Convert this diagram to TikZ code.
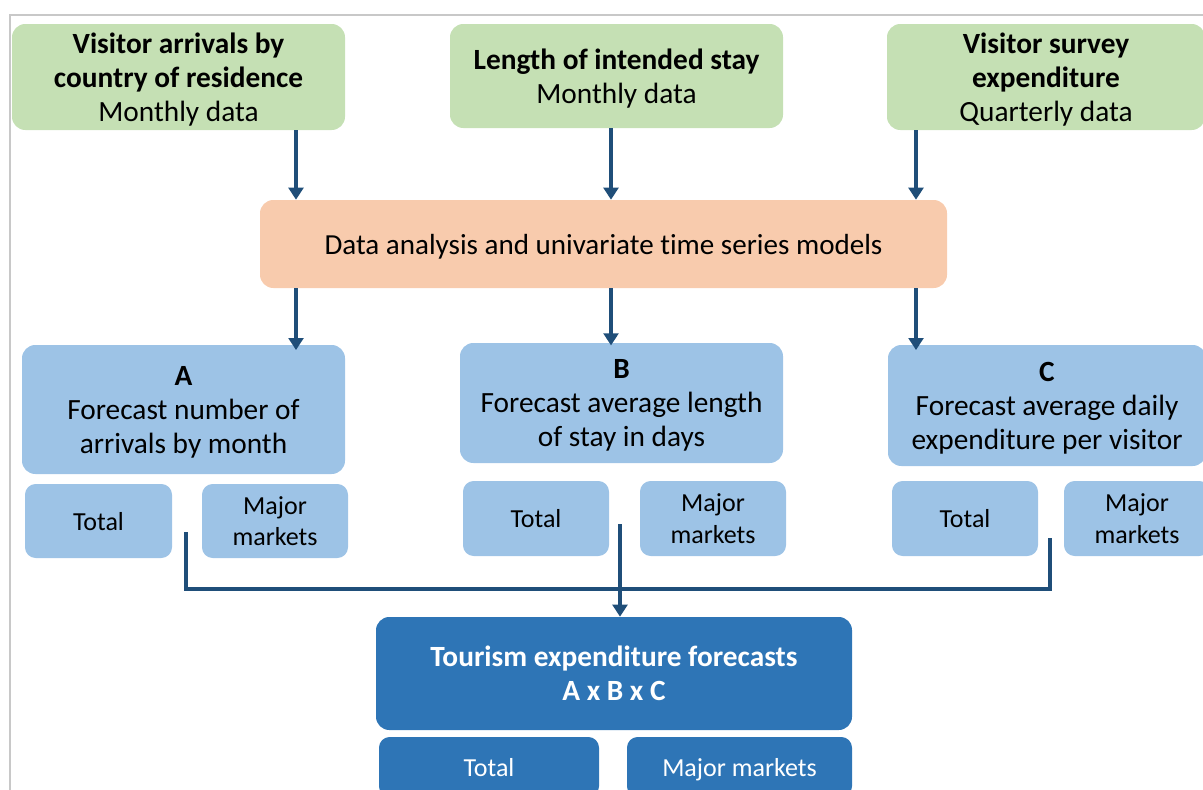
\documentclass[tikz,border=0pt]{standalone}
\usepackage{fontspec}
\setmainfont{Carlito}[Ligatures=NoCommon,Contextuals=NoAlternate]
\usetikzlibrary{arrows.meta}
\definecolor{grn}{HTML}{C5E0B4}
\definecolor{org}{HTML}{F8CBAD}
\definecolor{lblue}{HTML}{9DC3E6}
\definecolor{dblue}{HTML}{2E75B6}
\definecolor{arrc}{HTML}{1F4E79}
\definecolor{frm}{HTML}{C8C8C8}
\begin{document}
\begin{tikzpicture}[x=0.75pt,y=-0.75pt,
  box/.style={rectangle, rounded corners=10pt, inner sep=0pt, align=center, draw=none, text depth=0pt},
  bigtxt/.style={font=\fontsize{22}{25.5}\selectfont},
  smalltxt/.style={font=\fontsize{19.5}{23.5}\selectfont},
  gbox/.style={box, fill=grn, bigtxt},
  obox/.style={box, fill=org, font=\fontsize{21.8}{25}\selectfont},
  lbox/.style={box, fill=lblue, bigtxt},
  sbox/.style={box, fill=lblue, smalltxt, rounded corners=8pt},
  fbox/.style={box, fill=dblue, text=white, bigtxt},
  fsub/.style={box, fill=dblue, text=white, smalltxt, rounded corners=8pt},
  arr/.style={draw=arrc, line width=3pt, -{Triangle[length=9pt,width=11pt]}},
  conn/.style={draw=arrc, line width=3pt}]
\useasboundingbox (0,0) rectangle (1203,789);
\clip (0,0) rectangle (1203,789);
\draw[frm, line width=1.5pt] (10,795) -- (10,15) -- (1210,15);

% top sources
\node[gbox, minimum width=333*0.75pt, minimum height=106*0.75pt] (g1) at (178.5,77)
  {\textbf{Visitor arrivals by}\\\textbf{country of residence}\\Monthly data};
\node[gbox, minimum width=333*0.75pt, minimum height=104*0.75pt] (g2) at (616.5,76)
  {\textbf{Length of intended stay}\\Monthly data};
\node[gbox, minimum width=318*0.75pt, minimum height=106*0.75pt] (g3) at (1046,77)
  {\textbf{Visitor survey}\\\textbf{expenditure}\\Quarterly data};

% analysis
\node[obox, minimum width=687*0.75pt, minimum height=88*0.75pt] (ana) at (603.5,244)
  {Data analysis and univariate t\kern0pt ime series models};

% forecasts
\node[lbox, minimum width=323*0.75pt, minimum height=129*0.75pt] (fa) at (183.5,409.5)
  {\textbf{A}\\Forecast number of\\arrivals by month};
\node[lbox, minimum width=323*0.75pt, minimum height=120*0.75pt] (fb) at (621.5,403)
  {\textbf{B}\\Forecast average length\\of stay in days};
\node[lbox, minimum width=318*0.75pt, minimum height=121*0.75pt] (fc) at (1047,405.5)
  {\textbf{C}\\Forecast average daily\\expenditure per visitor};

% sub boxes
\node[sbox, minimum width=147*0.75pt, minimum height=74*0.75pt] (at) at (98.5,521) {Total};
\node[sbox, minimum width=146*0.75pt, minimum height=74*0.75pt] (am) at (275,521) {Major\\markets};
\node[sbox, minimum width=146*0.75pt, minimum height=75*0.75pt] (bt) at (536,518.5) {Total};
\node[sbox, minimum width=146*0.75pt, minimum height=75*0.75pt] (bm) at (713,518.5) {Major\\markets};
\node[sbox, minimum width=146*0.75pt, minimum height=75*0.75pt] (ct) at (965,518.5) {Total};
\node[sbox, minimum width=146*0.75pt, minimum height=75*0.75pt] (cm) at (1137,518.5) {Major\\markets};

% final
\node[fbox, minimum width=476*0.75pt, minimum height=113*0.75pt] (fin) at (614,673.5)
  {\textbf{Tourism expenditure forecasts}\\\textbf{A x B x C}};
\node[fsub, minimum width=220*0.75pt, minimum height=60*0.75pt] (ft) at (489,767) {Total};
\node[fsub, minimum width=225*0.75pt, minimum height=60*0.75pt] (fm) at (739.5,767) {Major markets};

% arrow columns
\coordinate (xa) at (296,0);
\coordinate (xb) at (611,0);
\coordinate (xc) at (916,0);
\draw[arr] (g1.south -| xa) -- (ana.north -| xa);
\draw[arr] (g2.south -| xb) -- (ana.north -| xb);
\draw[arr] (g3.south -| xc) -- (ana.north -| xc);
\draw[arr] (ana.south -| xa) -- ([yshift=-4pt]fa.north -| xa);
\draw[arr] (ana.south -| xb) -- ([yshift=-2pt]fb.north -| xb);
\draw[arr] (ana.south -| xc) -- ([yshift=-4pt]fc.north -| xc);

% bus connector
\coordinate (la) at (186,532);
\coordinate (lc) at (1050,538);
\coordinate (bus) at (0,589);
\coordinate (lm) at (620,524);
\draw[conn] (la) -- (la |- bus) -- (lc |- bus) -- (lc);
\draw[arr] (lm) -- (fin.north -| lm);
\end{tikzpicture}
\end{document}
